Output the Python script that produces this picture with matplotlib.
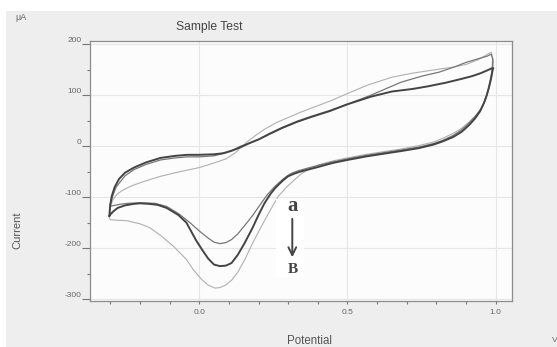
import matplotlib
matplotlib.use("Agg")
import matplotlib.pyplot as plt
from matplotlib.patches import Rectangle
from matplotlib.ticker import MultipleLocator

plt.rcParams['font.family'] = ['Liberation Sans', 'DejaVu Sans']

# cycle A (dark, thick) - anodic branch then cathodic branch
a_up_x = [-0.303, -0.300, -0.295, -0.285, -0.27, -0.25, -0.22, -0.18, -0.13, -0.08, -0.04, 0.00, 0.05,
          0.08, 0.11, 0.14, 0.17, 0.20, 0.24, 0.28, 0.33, 0.38, 0.44, 0.50, 0.58, 0.65, 0.72, 0.77,
          0.83, 0.88, 0.92, 0.95, 0.97, 0.985, 0.992]
a_up_y = [-137, -115, -98, -80, -64, -52, -42, -32, -23, -19, -17, -17, -16,
          -14, -9, -2, 6, 13, 25, 36, 48, 58, 69, 82, 97, 107, 112, 117,
          124, 131, 137, 143, 148, 152, 153]
a_dn_x = [0.992, 0.99, 0.985, 0.978, 0.97, 0.96, 0.947, 0.93, 0.91, 0.885, 0.857, 0.82, 0.79, 0.74,
          0.677, 0.62, 0.565, 0.50, 0.45, 0.40, 0.36, 0.34, 0.32, 0.30, 0.285, 0.27, 0.255, 0.24,
          0.22, 0.20, 0.18, 0.154, 0.13, 0.109, 0.09, 0.07, 0.05, 0.03, 0.01, -0.01, -0.043,
          -0.07, -0.11, -0.14, -0.17, -0.20, -0.22, -0.25, -0.275, -0.29, -0.30, -0.303]
a_dn_y = [153, 150, 135, 117, 100, 84, 68, 54, 41, 28, 18, 9, 3, -4,
          -10, -15, -20, -27, -33, -41, -47, -50, -54, -59, -66, -74, -83, -94,
          -112, -135, -160, -189, -213, -229, -234, -235, -232, -220, -203, -185, -150,
          -135, -121, -115, -113, -112, -113, -116, -121, -128, -134, -137]

# cycle B (medium gray)
b_up_x = [-0.302, -0.29, -0.28, -0.25, -0.22, -0.18, -0.13, -0.08, -0.04, 0.00, 0.05, 0.09, 0.12,
          0.14, 0.17, 0.20, 0.24, 0.28, 0.33, 0.38, 0.44, 0.50, 0.58, 0.68, 0.75, 0.81, 0.86,
          0.90, 0.94, 0.97, 0.985]
b_up_y = [-118, -95, -80, -58, -46, -36, -27, -23, -21, -21, -19, -13, -6,
          0, 6, 13, 24, 35, 47, 57, 68, 82, 100, 125, 137, 145, 155,
          164, 171, 176, 180]
b_dn_x = [0.985, 0.99, 0.988, 0.983, 0.975, 0.965, 0.95, 0.93, 0.91, 0.885, 0.857, 0.82, 0.79,
          0.74, 0.677, 0.62, 0.565, 0.50, 0.45, 0.40, 0.36, 0.33, 0.312, 0.295, 0.28, 0.255,
          0.23, 0.21, 0.18, 0.154, 0.13, 0.109, 0.09, 0.07, 0.05, 0.03, 0.002, -0.031, -0.07,
          -0.11, -0.15, -0.20, -0.24, -0.268, -0.285, -0.302]
b_dn_y = [180, 170, 150, 130, 110, 90, 72, 58, 45, 32, 21, 11, 5,
          -2, -8, -13, -18, -25, -31, -38, -44, -49, -53, -59, -66, -79,
          -95, -111, -136, -155, -172, -183, -189, -191, -188, -180, -167, -150, -132,
          -118, -112, -111, -112, -114, -116, -118]

# cycle C (light gray, outer)
c_up_x = [-0.303, -0.30, -0.29, -0.277, -0.26, -0.24, -0.22, -0.18, -0.13, -0.08, -0.04, 0.00, 0.05,
          0.09, 0.12, 0.14, 0.165, 0.19, 0.22, 0.26, 0.30, 0.34, 0.39, 0.44, 0.50, 0.57, 0.65,
          0.72, 0.80, 0.86, 0.90, 0.94, 0.97, 0.985]
c_up_y = [-140, -118, -104, -94, -87, -81, -76, -68, -59, -52, -47, -42, -33,
          -25, -14, -3, 10, 21, 33, 46, 56, 66, 77, 88, 103, 120, 135,
          143, 150, 155, 160, 169, 179, 184]
c_dn_x = [0.985, 0.993, 0.99, 0.985, 0.977, 0.967, 0.953, 0.935, 0.91, 0.885, 0.857, 0.82, 0.79,
          0.74, 0.677, 0.62, 0.565, 0.50, 0.45, 0.40, 0.37, 0.345, 0.323, 0.295, 0.267, 0.24,
          0.21, 0.18, 0.154, 0.13, 0.11, 0.09, 0.07, 0.053, 0.03, 0.008, -0.02, -0.043, -0.087,
          -0.13, -0.166, -0.20, -0.245, -0.28, -0.30, -0.303]
c_dn_y = [184, 165, 150, 130, 112, 94, 76, 61, 47, 35, 25, 15, 8,
          1, -6, -11, -16, -23, -29, -37, -45, -54, -65, -80, -98, -125,
          -157, -190, -222, -247, -262, -272, -277, -278, -272, -261, -242, -222, -196,
          -175, -160, -152, -146, -145, -144, -140]

x_major = [0.0, 0.5, 1.0]
x_labels = ['0.0', '0.5', '1.0']
y_major = [-300, -200, -100, 0, 100, 200]
y_labels = ['-300', '-200', '-100', '0', '100', '200']

fig = plt.figure(figsize=(5.57, 3.47), dpi=100)
fig.patch.set_facecolor('white')
fig.patches.append(Rectangle((6 / 557, 0), 1 - 6 / 557, 1 - 11 / 347, transform=fig.transFigure,
                             facecolor='#eeeeee', edgecolor='none', zorder=-5))

ax = fig.add_axes([89.5 / 557, 46 / 347, (512 - 89.5) / 557, (301 - 41) / 347])
ax.set_facecolor('#fcfcfc')

line_kw = dict(solid_joinstyle='round', solid_capstyle='round', zorder=2)
ax.plot(c_up_x + c_dn_x, c_up_y + c_dn_y, color='#b0b0b0', lw=0.8, **line_kw)
ax.plot(b_up_x + b_dn_x, b_up_y + b_dn_y, color='#777777', lw=0.9, **line_kw)
ax.plot(a_up_x + a_dn_x, a_up_y + a_dn_y, color='#444444', lw=1.4, **line_kw)

ax.set_xlim(-0.370, 1.055)
ax.set_ylim(-303.3, 205.9)

ax.set_xticks(x_major)
ax.set_xticklabels(x_labels)
ax.xaxis.set_minor_locator(MultipleLocator(0.1))
ax.set_yticks(y_major)
ax.set_yticklabels(y_labels)
ax.yaxis.set_minor_locator(MultipleLocator(50))

ax.grid(True, which='major', color='#e6e6e6', lw=0.8, zorder=0)
ax.set_axisbelow(True)

ax.tick_params(axis='x', which='both', direction='out', length=2.5, width=0.8, color='#777777',
               labelsize=6, labelcolor='#666666', pad=3.5)
ax.tick_params(axis='y', which='major', direction='out', length=5.8, width=0.8, color='#777777',
               labelsize=6, labelcolor='#666666', pad=0)
ax.tick_params(axis='y', which='minor', direction='out', length=2.5, width=0.8, color='#777777')
for lbl in ax.get_yticklabels():
    lbl.set_verticalalignment('bottom')

for s in ax.spines.values():
    s.set_color('#8c8c8c')
    s.set_linewidth(0.9)

# white patch behind the annotation
ax.add_patch(Rectangle((0.259, -257), 0.094, 154, facecolor='white', edgecolor='none', zorder=3))
ax.annotate('', xy=(0.314, -223), xytext=(0.314, -137),
            arrowprops=dict(arrowstyle='->', lw=1.4, color='#444444', mutation_scale=14), zorder=4)
ax.text(0.316, -117, 'a', ha='center', va='center', fontsize=15, fontweight='bold',
        family='Liberation Serif', color='#444444', zorder=4)
ax.text(0.316, -241, 'B', ha='center', va='center', fontsize=11, fontweight='bold',
        family='Liberation Serif', color='#444444', zorder=4)

fig.text(209 / 557, 1 - 27 / 347, 'Sample Test', ha='center', va='center', fontsize=8.7, color='#444444')
fig.text(21 / 557, 1 - 17.5 / 347, 'µA', ha='center', va='center', fontsize=6.5, color='#666666')
fig.text(17.5 / 557, 1 - 230 / 347, 'Current', ha='center', va='center', rotation=90, fontsize=8,
         color='#555555')
fig.text(310 / 557, 1 - 341 / 347, 'Potential', ha='center', va='center', fontsize=8.3, color='#555555')
fig.text(551.5 / 557, 1 - 341 / 347, 'V', ha='left', va='center', fontsize=6, color='#666666')

fig.savefig('out.png', dpi=100)
